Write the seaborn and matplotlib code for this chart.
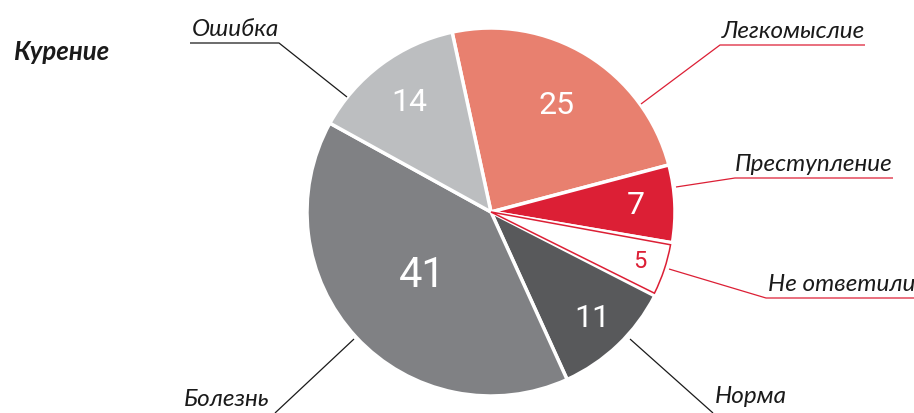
import matplotlib
matplotlib.use("Agg")
import matplotlib.pyplot as plt
from matplotlib.patches import Wedge
import numpy as np
import seaborn as sns

# ---- data ----
categories = ["Легкомыслие", "Преступление", "Не ответили", "Норма", "Болезнь", "Ошибка"]
values = [25, 7, 5, 11, 41, 14]
value_labels = ["25", "7", "5", "11", "41", "14"]
title = "Курение"

# ---- style ----
sns.set_theme(style="white")
plt.rcParams['font.family'] = ['Lato', 'DejaVu Sans']

colors = ["#E8806F", "#DC1F35", "#FFFFFF", "#58595B", "#808184", "#BCBEC0"]
red = "#DC1F35"
W, H = 914, 413
def Y(y):
    return H - y

fig = plt.figure(figsize=(9.14, 4.13), dpi=100)
ax = fig.add_axes([0, 0, 1, 1])

cx, cy, R = 491, Y(212), 184
wedges, _ = ax.pie(values, colors=colors, startangle=102.2, counterclock=False,
                   radius=R, center=(cx, cy),
                   wedgeprops=dict(edgecolor="white", linewidth=2.5))
ax.set_xlim(0, W)
ax.set_ylim(0, H)
ax.set_aspect("equal")
ax.axis("off")

# red outline for the white "Не ответили" wedge
w = wedges[2]
ax.add_patch(Wedge((cx, cy), R - 1.5, w.theta1 + 0.7, w.theta2 - 0.7,
                   facecolor="none", edgecolor=red, linewidth=1.1, zorder=5))

# value labels inside wedges
frac = [0.68, 0.79, 0.85, 0.80, 0.51, 0.74]
sizes = [23, 23, 17, 23, 30, 23]
txtcol = ["white", "white", red, "white", "white", "white"]
for wd, lab, f, s, c in zip(wedges, value_labels, frac, sizes, txtcol):
    ang = np.deg2rad((wd.theta1 + wd.theta2) / 2)
    ax.text(cx + f * R * np.cos(ang), cy + f * R * np.sin(ang), lab,
            ha="center", va="center", fontsize=s, color=c,
            family=["Roboto", "DejaVu Sans"], zorder=6)

# category labels with leader lines (layout in pixel coords)
lab_pos = {
    "Ошибка": (192, 36, "left"),
    "Легкомыслие": (865, 38, "right"),
    "Преступление": (893, 171, "right"),
    "Не ответили": (768, 291, "left"),
    "Норма": (715, 403, "left"),
    "Болезнь": (184, 406, "left"),
}
leaders = {
    "Ошибка": ([190, 279, 347], [43, 43, 97], "#1a1a1a"),
    "Легкомыслие": ([865, 720, 641], [45, 45, 104], red),
    "Преступление": ([893, 735, 676], [178, 178, 187], red),
    "Не ответили": ([914, 766, 669], [298, 298, 269], red),
    "Норма": ([630, 713], [339, 413], "#1a1a1a"),
    "Болезнь": ([354, 275], [339, 413], "#1a1a1a"),
}
for name in categories:
    x, y, ha = lab_pos[name]
    ax.text(x, Y(y), name, ha=ha, va="baseline", fontsize=17.5,
            style="italic", color="#1a1a1a")
    xs, ys, lc = leaders[name]
    ax.plot(xs, [Y(v) for v in ys], color=lc, linewidth=0.9,
            solid_capstyle="butt", clip_on=False)

ax.text(13, Y(60), title, ha="left", va="baseline", fontsize=18.5,
        style="italic", weight="bold", color="#1a1a1a")

fig.savefig("out.png", dpi=100)
